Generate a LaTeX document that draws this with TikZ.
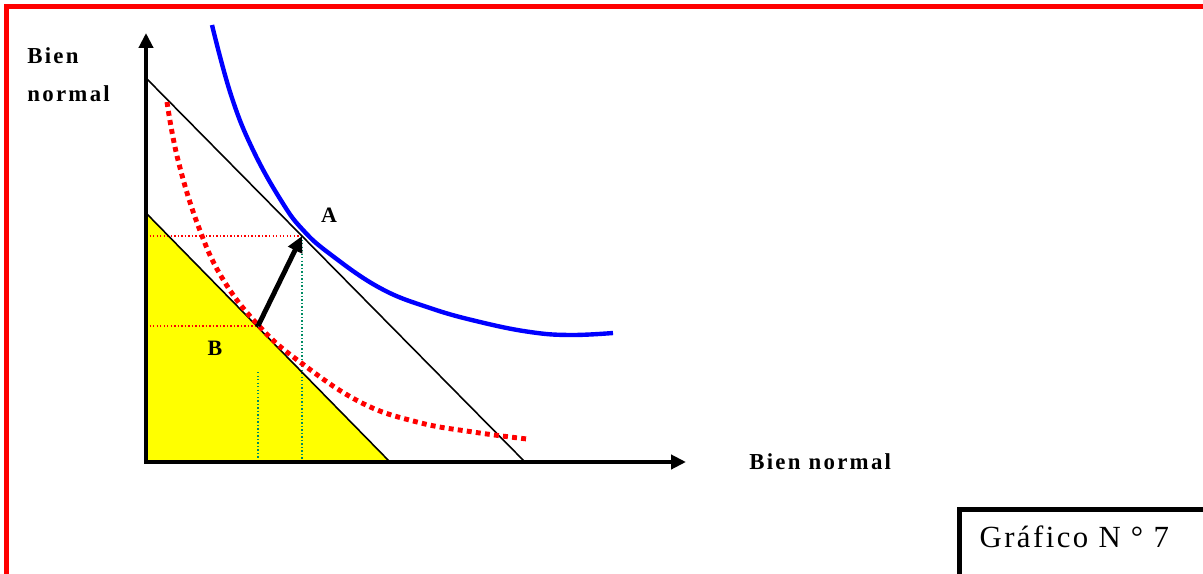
\documentclass[tikz,border=0pt]{standalone}
\usepackage{fontspec}
\setmainfont{Liberation Serif}
\newfontfamily\labelfont[LetterSpace=10]{Liberation Serif}
\newfontfamily\captionfont[LetterSpace=8]{Liberation Serif}
\usetikzlibrary{arrows.meta}
\definecolor{framered}{RGB}{255,0,0}
\definecolor{curveblue}{RGB}{0,0,255}
\definecolor{budgetyellow}{RGB}{255,255,0}
\definecolor{guidegreen}{RGB}{0,140,100}

\begin{document}
\begin{tikzpicture}[x=0.02cm,y=-0.02cm,
    axis/.style={line width=2.3pt,line cap=rect,-{Triangle[length=8.5pt,width=8pt]}},
    budget/.style={line width=0.9pt},
    guideH/.style={framered,line width=0.6pt,dash pattern=on 0.8pt off 1.2pt},
    guideV/.style={guidegreen,line width=0.6pt,dash pattern=on 0.8pt off 1.2pt},
    axislabel/.style={font=\labelfont\bfseries\fontsize{13}{22}\selectfont,inner sep=0pt},
    pointlabel/.style={font=\bfseries\fontsize{12.5}{14}\selectfont,inner sep=0pt}]
    \useasboundingbox (0,0) rectangle (1203,574);
    \draw[framered,line width=2.3pt] (6.5,580) -- (6.5,6.5) -- (1210,6.5);
    \coordinate (O) at (146,462);
    \coordinate (ytop) at (146,33);
    \coordinate (xend) at (686,462);
    \coordinate (outerY) at (146,78);
    \coordinate (outerX) at (525,462);
    \coordinate (innerY) at (146,213);
    \coordinate (innerX) at (390,462);
    \coordinate (pA) at (302,236);
    \coordinate (pB) at (258,326);
    \fill[budgetyellow] (innerY) -- (O) -- (innerX) -- cycle;
    \draw[guideH] (O |- pA) -- (pA);
    \draw[guideH] (O |- pB) -- (pB);
    \draw[guideV] (pA) -- (pA |- O);
    \draw[guideV] (258,372) -- (pB |- O);
    \draw[budget] (outerY) -- (outerX);
    \draw[budget] (innerY) -- (innerX);
    \draw[curveblue,line width=2.5pt] plot[smooth,tension=0.7] coordinates {(212,25) (231,95) (253,150) (282,202) (303,230) (330,254) (380,288) (430,308) (480,322) (530,332) (570,335) (613,333)};
    \draw[framered,line width=2.8pt,dash pattern=on 2.8pt off 2.4pt] plot[smooth,tension=0.7] coordinates {(167,102) (178,160) (199,228) (224,281) (260,327) (300,362) (360,402) (417,422) (473,432) (527,439)};
    \draw[axis] (O) -- (ytop);
    \draw[axis] (O) -- (xend);
    \draw[line width=2.8pt,-{Triangle[length=9pt,width=8.5pt]}] (pB) -- (pA);
    \node[axislabel,anchor=north west,align=left] (ylabel) at (27,47) {Bien\\normal};
    \node[axislabel,anchor=base west] (xlabel) at (749,469) {Bien normal};
    \node[pointlabel] (labA) at (329,215) {A};
    \node[pointlabel] (labB) at (215,348) {B};
    \node[draw,line width=3pt,anchor=north west,inner xsep=0.4cm,inner ysep=0pt,text height=0.76cm,text depth=0.8cm,text width=5.6cm,align=left,font=\captionfont\fontsize{17.5}{20}\selectfont] (grafico) at (957,507) {Gráfico N ° 7};
\end{tikzpicture}
\end{document}
